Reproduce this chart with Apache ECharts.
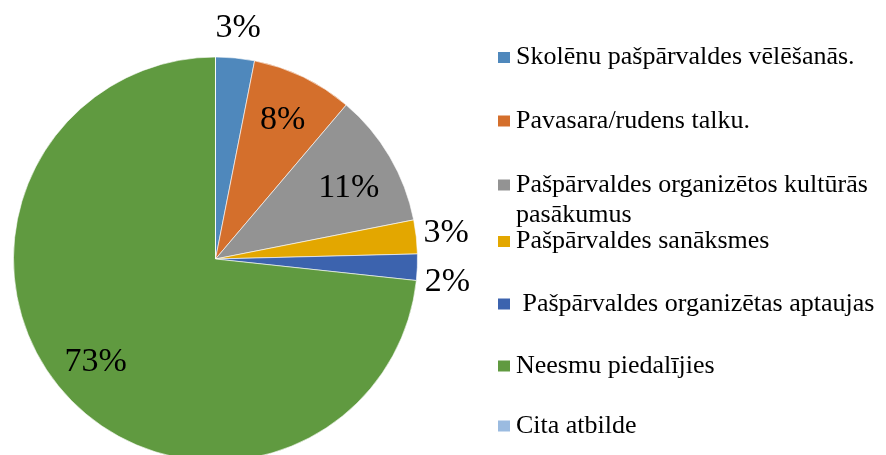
<!DOCTYPE html>
<html><head><meta charset="utf-8">
<script src="https://cdn.jsdelivr.net/npm/echarts@6/dist/echarts.min.js"></script>
<style>html,body{margin:0;padding:0;background:#fff}#c{width:886px;height:455px}</style>
</head><body><div id="c"></div>
<script>
const categories = ['Skolēnu pašpārvaldes vēlēšanās.', 'Pavasara/rudens talku.', 'Pašpārvaldes organizētos kultūrās pasākumus', 'Pašpārvaldes sanāksmes', ' Pašpārvaldes organizētas aptaujas', 'Neesmu piedalījies', 'Cita atbilde'];
const values = [3.1, 8.1, 10.7, 2.7, 2.1, 73.3, 0];
const colors = ['#4F88BC', '#D46F2C', '#939393', '#E3A700', '#3C63AE', '#609A40', '#9BBBE0'];
const insideLabelIdx = [1, 2, 5];
const outsideLabelIdx = [0, 3, 4];

const FONT = 'Liberation Serif';
const CX = 215.5, CY = 259, R = 202;
const legendCenters = [57.5, 121, 185, 241.5, 304, 366, 426];
const labelShift = { 2: { dy: 7 }, 4: { dy: 14 }, 5: { dx: -5 } };

const labelFmt = p => Math.round(p.value) + '%';
const labelStyle = { fontFamily: FONT, fontSize: 34, color: '#000', formatter: labelFmt };
const txt = { fontFamily: FONT, fontSize: 26, lineHeight: 30, color: '#000' };

const chart = echarts.init(document.getElementById('c'), null, { renderer: 'canvas' });
chart.setOption({
  backgroundColor: '#fff',
  animation: false,
  legend: categories.map((name, i) => {
    const wrap = i === 2;
    const lg = {
      data: [name], orient: 'vertical', left: 496,
      top: legendCenters[i] - (wrap ? 45 : 15),
      padding: 0, itemWidth: 14, itemHeight: 13, itemGap: 0,
      icon: 'rect', selectedMode: false,
      textStyle: Object.assign({}, txt, wrap ? { rich: { a: Object.assign({}, txt), s: Object.assign({}, txt) } } : {})
    };
    if (wrap) {
      lg.formatter = n => {
        const k = n.lastIndexOf(' ');
        return '{s| }\n{a|' + n.slice(0, k) + '}\n{a|' + n.slice(k + 1) + '}';
      };
    }
    return lg;
  }),
  series: [
    {
      type: 'pie', center: [CX, CY], radius: R, startAngle: 90, clockwise: true,
      silent: true, avoidLabelOverlap: false,
      label: { show: false }, labelLine: { show: false },
      itemStyle: { borderColor: '#fff', borderWidth: 0.6 },
      data: categories.map((n, i) => ({ name: n, value: values[i], itemStyle: { color: colors[i] } }))
    },
    {
      type: 'pie', center: [CX, CY], radius: [R / 2, R], startAngle: 90, clockwise: true,
      silent: true, avoidLabelOverlap: false,
      itemStyle: { color: 'rgba(0,0,0,0)' },
      label: Object.assign({ position: 'inside' }, labelStyle), labelLine: { show: false },
      labelLayout: p => labelShift[p.dataIndex] || {},
      data: categories.map((n, i) => ({ name: n, value: values[i], label: { show: insideLabelIdx.includes(i) } }))
    },
    {
      type: 'pie', center: [CX, CY], radius: [R, R + 54], startAngle: 90, clockwise: true,
      silent: true, avoidLabelOverlap: false,
      itemStyle: { color: 'rgba(0,0,0,0)' },
      label: Object.assign({ position: 'inside' }, labelStyle), labelLine: { show: false },
      labelLayout: p => labelShift[p.dataIndex] || {},
      data: categories.map((n, i) => ({ name: n, value: values[i], label: { show: outsideLabelIdx.includes(i) } }))
    }
  ]
});
</script>
</body></html>
